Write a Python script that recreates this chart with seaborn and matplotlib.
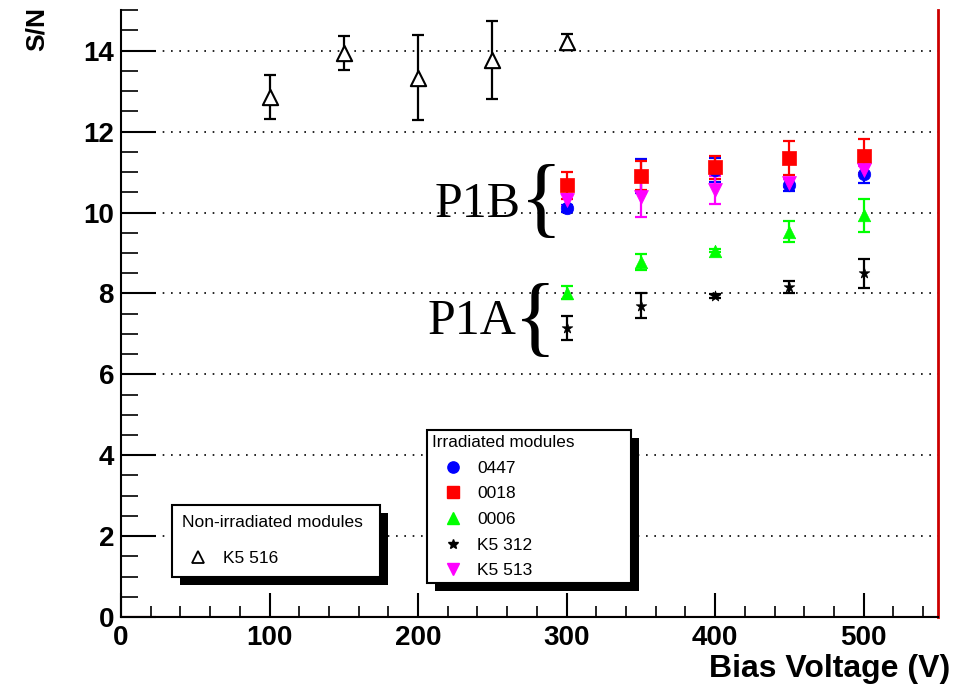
import numpy as np
import pandas as pd
import matplotlib
matplotlib.use("Agg")
import matplotlib.pyplot as plt
import seaborn as sns
from matplotlib.lines import Line2D
from matplotlib.patches import Rectangle
from matplotlib.ticker import MultipleLocator

# ---------------- data ----------------
v_nonirr = [100, 150, 200, 250, 300]
sn_k5516 = [12.85, 13.95, 13.33, 13.77, 14.22]
err_k5516 = [0.55, 0.42, 1.05, 0.97, 0.20]

v_irr = [300, 350, 400, 450, 500]
sn_0447 = [10.10, 10.90, 11.05, 10.68, 10.95]
err_0447 = [0.08, 0.42, 0.30, 0.15, 0.22]
sn_0018 = [10.67, 10.91, 11.12, 11.35, 11.39]
err_0018 = [0.33, 0.36, 0.28, 0.42, 0.42]
sn_0006 = [8.02, 8.78, 9.06, 9.53, 9.93]
err_0006 = [0.16, 0.20, 0.04, 0.26, 0.40]
sn_k5312 = [7.14, 7.70, 7.93, 8.15, 8.50]
err_k5312 = [0.30, 0.30, 0.05, 0.15, 0.36]
sn_k5513 = [10.31, 10.39, 10.56, 10.74, 11.06]
err_k5513 = [0.15, 0.50, 0.35, 0.10, 0.10]

irr_names = ["0447", "0018", "0006", "K5 312", "K5 513"]
irr_vals = [sn_0447, sn_0018, sn_0006, sn_k5312, sn_k5513]
irr_errs = [err_0447, err_0018, err_0006, err_k5312, err_k5513]
irr_colors = ["#0000ff", "#ff0000", "#00ff00", "#000000", "#ff00ff"]
irr_markers = ["o", "s", "^", "*", "v"]
irr_sizes = [9, 10, 9, 8, 10]

x_ticks = [0, 100, 200, 300, 400, 500]
y_ticks = [0, 2, 4, 6, 8, 10, 12, 14]

# ---------------- style ----------------
sns.set_theme(style="white")
plt.rcParams["font.family"] = ["Liberation Sans", "DejaVu Sans"]
plt.rcParams["text.color"] = "black"
plt.rcParams["axes.labelcolor"] = "black"
plt.rcParams["xtick.color"] = "black"
plt.rcParams["ytick.color"] = "black"
plt.rcParams["legend.labelcolor"] = "black"

fig, ax = plt.subplots(figsize=(9.71, 6.85), dpi=100)
fig.subplots_adjust(left=0.1246, right=0.966, bottom=0.0993, top=0.985)

# grid
for y in y_ticks[1:]:
    ax.axhline(y, color="black", lw=1.2, ls=(0, (1, 4)), zorder=0.5)

# irradiated series
for name, vals, errs, c, m, s in zip(irr_names, irr_vals, irr_errs, irr_colors, irr_markers, irr_sizes):
    df = pd.DataFrame({"V": v_irr, "SN": vals})
    ax.errorbar(v_irr, vals, yerr=errs, fmt="none", ecolor=c, elinewidth=1.6,
                capsize=4, capthick=1.6, zorder=2)
    sns.scatterplot(data=df, x="V", y="SN", ax=ax, color=c, marker=m,
                    s=s ** 2, edgecolor=c, linewidth=0.5, zorder=3)

# non-irradiated
df_n = pd.DataFrame({"V": v_nonirr, "SN": sn_k5516})
ax.errorbar(v_nonirr, sn_k5516, yerr=err_k5516, fmt="none", ecolor="black",
            elinewidth=1.6, capsize=4, capthick=1.6, zorder=2)
sns.scatterplot(data=df_n, x="V", y="SN", ax=ax, marker="^", s=11 ** 2,
                facecolor="white", edgecolor="black", linewidth=1.5, zorder=3)

# axes
ax.set_xlim(0, 550)
ax.set_ylim(0, 15)
ax.set_xticks(x_ticks)
ax.set_yticks(y_ticks)
ax.xaxis.set_minor_locator(MultipleLocator(20))
ax.yaxis.set_minor_locator(MultipleLocator(0.5))
ax.tick_params(axis="y", which="major", direction="in", length=25, width=1.5,
               labelsize=20, pad=5, left=True, colors="black")
ax.tick_params(axis="y", which="minor", direction="in", length=12, width=1.2, left=True,
               colors="black")
ax.tick_params(axis="x", which="major", direction="in", length=17, width=1.5,
               labelsize=20, pad=6, bottom=True, colors="black")
ax.tick_params(axis="x", which="minor", direction="in", length=8, width=1.2, bottom=True,
               colors="black")
for lab in ax.get_xticklabels() + ax.get_yticklabels():
    lab.set_fontweight("bold")
ax.set_xlabel("")
ax.set_ylabel("")

ax.spines["top"].set_visible(False)
ax.spines["left"].set_color("black")
ax.spines["left"].set_linewidth(1.5)
ax.spines["bottom"].set_color("black")
ax.spines["bottom"].set_linewidth(1.5)
ax.spines["right"].set_color("#cc0000")
ax.spines["right"].set_linewidth(2)
ax.axhline(0, color="#dd0000", lw=1.5, zorder=0.4)

fig.text(0.979, 0.012, "Bias Voltage (V)", ha="right", va="baseline",
         fontsize=23, fontweight="bold", color="black")
fig.text(0.038, 0.99, "S/N", rotation=90, ha="center", va="top",
         fontsize=19, fontweight="bold", color="black")

# annotations P1B / P1A
serif = ["Liberation Serif", "DejaVu Serif"]
ax.text(269, 10.2, "P1B", ha="right", va="center", fontsize=36, family=serif, color="black")
ax.text(283, 10.21, "{", ha="center", va="center", fontsize=64, family=serif, color="black")
ax.text(266, 7.3, "P1A", ha="right", va="center", fontsize=36, family=serif, color="black")
ax.text(279, 7.25, "{", ha="center", va="center", fontsize=64, family=serif, color="black")

# legends
irr_handles = [Line2D([], [], ls="none", marker=m, color=c, markersize=s * 0.9)
               for c, m, s in zip(irr_colors, irr_markers, irr_sizes)]
leg1 = ax.legend(irr_handles, irr_names, title="Irradiated modules",
                 loc="upper left", bbox_to_anchor=(0.3745, 0.056, 0.25, 0.252),
                 mode="expand",
                 fontsize=12.5, title_fontsize=12.3, alignment="left",
                 frameon=True, fancybox=False, framealpha=1, edgecolor="black",
                 borderpad=0.3, labelspacing=0.6, handletextpad=0.2,
                 handlelength=2.4, borderaxespad=0)
leg1.get_frame().set_linewidth(1.5)
ax.add_artist(leg1)

non_handles = [Line2D([], [], ls="none", marker="^", markerfacecolor="white",
                      markeredgecolor="black", markersize=9, markeredgewidth=1.3)]
leg2 = ax.legend(non_handles, ["K5 516"], title="Non-irradiated modules",
                 loc="upper left", bbox_to_anchor=(0.0624, 0.058, 0.2546, 0.1265),
                 mode="expand",
                 fontsize=12.5, title_fontsize=12.5, alignment="left",
                 frameon=True, fancybox=False, framealpha=1, edgecolor="black",
                 borderpad=0.6, labelspacing=1.2, handletextpad=0.6,
                 handlelength=1.75, borderaxespad=0)
leg2.get_frame().set_linewidth(1.5)

fig.canvas.draw()
for lg in (leg1, leg2):
    bb = lg.get_window_extent()
    sh = Rectangle((bb.x0 + 8, bb.y0 - 8), bb.width, bb.height, transform=None,
                   facecolor="black", edgecolor="none", zorder=lg.get_zorder() - 0.1,
                   clip_on=False)
    ax.add_artist(sh)

fig.savefig("out.png", dpi=100)
